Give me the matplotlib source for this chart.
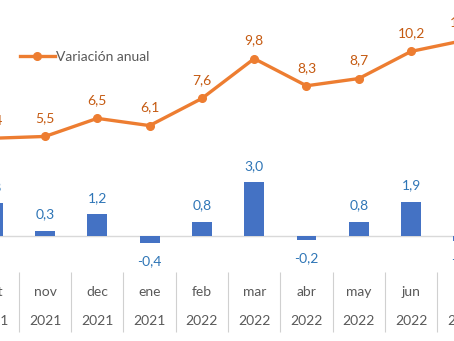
import matplotlib
matplotlib.use("Agg")
import matplotlib.pyplot as plt
from matplotlib.lines import Line2D

# Data (chart is a crop: oct and jul are only partly visible)
months = ["oct", "nov", "dec", "ene", "feb", "mar", "abr", "may", "jun", "jul"]
years = ["2021", "2021", "2021", "2021", "2022", "2022", "2022", "2022", "2022", "2022"]
mensual = [1.8, 0.3, 1.2, -0.4, 0.8, 3.0, -0.2, 0.8, 1.9, -0.3]
anual = [5.4, 5.5, 6.5, 6.1, 7.6, 9.8, 8.3, 8.7, 10.2, 10.8]

BLUE = "#4472C4"
ORANGE = "#ED7D31"
BLUE_TXT = "#2E75B6"
ORANGE_TXT = "#C55A11"
GRAY_TXT = "#595959"

plt.rcParams["font.family"] = ["Lato", "DejaVu Sans"]
fs = 10


def fmt(v):
    return f"{v:.1f}".replace(".", ",")


fig = plt.figure(figsize=(4.54, 3.41), dpi=100)
# axes wider than the figure: the original is a crop of a bigger chart
ax = fig.add_axes([-40 / 454, 0.2023, 540 / 454, 0.7977])
x = list(range(len(months)))

ax.bar(x, mensual, width=0.38, color=BLUE, zorder=2)
ax.plot(x, anual, color=ORANGE, lw=2.4, marker="o", ms=5.5, zorder=3)
ax.axhline(0, color="#D9D9D9", lw=1, zorder=1)

for i, v in enumerate(anual):
    ax.annotate(fmt(v), (i, v), xytext=(0, 13), textcoords="offset points",
                ha="center", va="center", color=ORANGE_TXT, fontsize=fs)
for i, v in enumerate(mensual):
    off = 11.5 if v >= 0 else -13
    ax.annotate(fmt(v), (i, v), xytext=(0, off), textcoords="offset points",
                ha="center", va="center", color=BLUE_TXT, fontsize=fs)

ax.set_yticks([])
for s in ax.spines.values():
    s.set_visible(False)

ax.set_xticks(x)
ax.set_xticklabels([f"{m}\n{y}" for m, y in zip(months, years)],
                   fontsize=fs, color=GRAY_TXT, linespacing=2.75)
ax.tick_params(axis="x", which="major", length=0, pad=10)
ax.set_xticks([i + 0.5 for i in x], minor=True)
ax.tick_params(axis="x", which="minor", length=43, width=0.8,
               color="#D0D0D0", direction="out")

# limits after ticks (set_xticks would widen them)
ax.set_xlim(-0.625, 9.70)
ax.set_ylim(-1.99, 13.04)

handle = Line2D([], [], color=ORANGE, lw=2.4, marker="o", ms=5.5)
ax.legend([handle], ["Variación anual"], loc="center left",
          bbox_to_anchor=(20 / 454, 1 - 57 / 341), bbox_transform=fig.transFigure,
          frameon=False, fontsize=fs, handlelength=2.5, handletextpad=0.1,
          borderpad=0, borderaxespad=0, labelcolor=GRAY_TXT)

fig.savefig("out.png", dpi=100)
